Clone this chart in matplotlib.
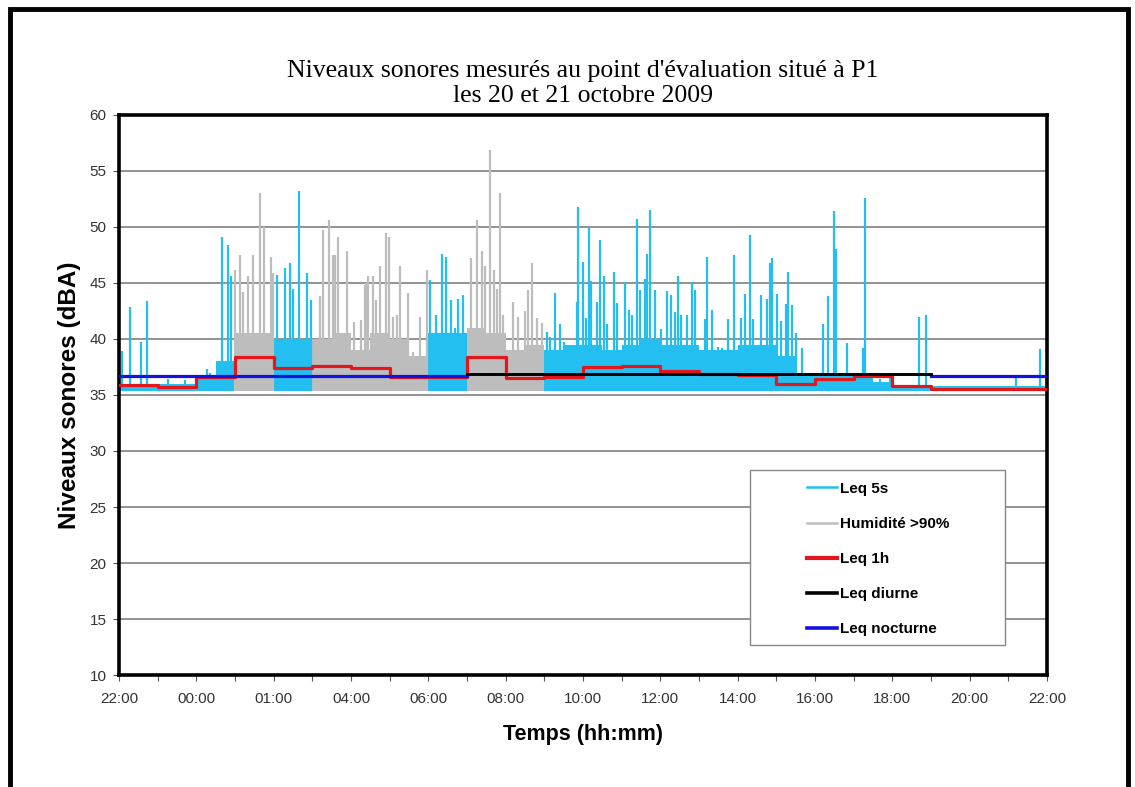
import numpy as np
import matplotlib.pyplot as plt
from matplotlib.lines import Line2D
from matplotlib.patches import Rectangle

# time axis: hours counted from 22:00 on 20 october
tick_hours = np.arange(0, 25, 2)
tick_labels = ['22:00', '00:00', '01:00', '04:00', '06:00', '08:00', '10:00',
               '12:00', '14:00', '16:00', '18:00', '20:00', '22:00']

# Leq 1h, one value per hour starting at 22:00
leq_1h = [35.9, 35.7, 36.6, 38.4, 37.4, 37.6, 37.4, 36.6, 36.6, 38.4, 36.5, 36.6,
          37.5, 37.6, 37.1, 36.9, 36.8, 36.0, 36.4, 36.7, 35.8, 35.5, 35.5, 35.5]

# day (07h-19h) and night Leq
leq_diurne = 36.9
leq_nocturne = 36.7
diurne_start, diurne_end = 9, 21

# periods with humidity > 90 %
humid_periods = [(3, 4), (5, 8), (9, 11)]

# Leq 5s : lower floor, dense body per half hour, and the peaks
floor_level = 35.4
body_level = [36.0, 36.0, 36.0, 36.0, 36.6, 38.0, 40.5, 40.5, 40.0, 40.0,
              40.0, 40.5, 39.0, 40.5, 40.0, 38.5, 40.5, 40.5, 41.0, 40.5,
              39.0, 39.5, 39.0, 39.5, 39.5, 39.0, 39.5, 40.0, 39.5, 39.5,
              39.0, 39.0, 39.5, 39.5, 38.5, 36.8, 36.8, 37.0, 36.5, 36.2,
              35.9, 35.9, 35.8, 35.8, 35.8, 35.8, 35.8, 35.8]
peak_hours = [0.09, 0.28, 0.57, 0.73, 1.27, 1.7, 2.1, 2.27, 2.35, 2.67, 2.81, 2.91, 3.0,
              3.13, 3.21, 3.34, 3.47, 3.65, 3.75, 3.92, 3.99,
              4.08, 4.29, 4.42, 4.51, 4.65, 4.77, 4.87, 4.96,
              5.2, 5.28, 5.43, 5.54, 5.59, 5.67, 5.89, 6.08, 6.25, 6.36, 6.39, 6.45,
              6.56, 6.66, 6.75,
              6.9, 6.99, 7.09, 7.18, 7.28, 7.48, 7.61, 7.78, 7.97,
              8.04, 8.19, 8.36, 8.45, 8.6, 8.69, 8.77, 8.9,
              9.1, 9.27, 9.38, 9.48, 9.59, 9.7, 9.77, 9.85, 9.94, 10.2, 10.31, 10.5,
              10.59, 10.69, 10.8, 10.95,
              11.08, 11.16, 11.27, 11.4, 11.51, 11.62, 11.84, 11.87, 11.99, 12.08,
              12.15, 12.22, 12.37, 12.44, 12.55, 12.61, 12.8, 12.89, 13.09, 13.19,
              13.27, 13.39, 13.47, 13.6, 13.66, 13.73, 13.86, 14.03, 14.18, 14.29,
              14.38, 14.46, 14.53, 14.68, 14.81, 14.89, 15.15, 15.21, 15.34, 15.5,
              15.6, 15.74, 15.9, 16.1, 16.2, 16.32, 16.4, 16.6, 16.75, 16.83, 16.9,
              17.02, 17.11, 17.25, 17.31, 17.41, 17.5, 17.67, 18.2, 18.33, 18.49,
              18.54, 18.84, 19.24, 19.29, 19.68, 19.94, 20.7, 20.86, 23.21, 23.82]
peak_levels = [38.9, 42.9, 39.7, 43.4, 36.4, 36.3, 36.2, 37.3, 37.0, 49.1, 48.4, 45.6, 46.2,
               47.5, 44.2, 45.6, 47.5, 53.0, 50.0, 47.3, 45.9,
               45.7, 46.3, 46.8, 44.5, 53.2, 38.6, 45.9, 43.5,
               43.8, 49.7, 50.6, 47.5, 47.5, 49.1, 47.9, 41.5, 41.7, 44.8, 45.0, 45.6,
               45.6, 43.5, 46.5,
               49.5, 49.1, 42.0, 42.1, 46.5, 44.1, 38.8, 42.0, 46.2,
               45.3, 42.1, 47.6, 47.3, 43.5, 41.0, 43.6, 43.9,
               47.2, 50.6, 47.9, 46.5, 56.9, 46.2, 44.5, 53.0, 42.1, 43.3, 42.0, 42.5,
               44.4, 46.8, 41.9, 41.4,
               40.6, 40.2, 44.1, 41.3, 39.7, 39.5, 43.3, 51.8, 46.9, 41.9,
               50.0, 45.2, 43.3, 48.8, 45.6, 41.3, 46.0, 43.2, 45.1, 42.6,
               42.1, 50.7, 44.4, 45.4, 47.6, 51.5, 44.4, 40.9, 44.3, 43.9,
               42.4, 45.6, 42.1, 42.1, 45.1, 44.4, 41.8, 47.3, 42.6, 39.3,
               39.2, 41.8, 47.5, 41.9, 44.0, 49.3, 41.8, 43.9, 43.6, 46.8, 47.2,
               44.0, 41.6, 43.1, 46.0, 43.0, 40.5, 39.2, 41.3, 43.8, 51.4,
               48.0, 39.6, 39.2, 52.6, 36.4, 36.8, 42.0, 42.1, 36.5, 39.1]

cyan = '#22bff0'
grey = '#bdbdbd'
red = '#e3161c'
blue = '#1212e0'


def is_humid(h):
    for a, b in humid_periods:
        if a <= h < b:
            return True
    return False


def main():
    fig = plt.figure(figsize=(11.35, 7.87), dpi=100)
    ax = fig.add_axes([0.1048, 0.1423, 0.8176, 0.7116])

    # frame around the whole picture
    fig.patches.append(Rectangle((0.009, -0.05), 0.985, 1.039, transform=fig.transFigure,
                                 fill=False, edgecolor='black', linewidth=3.5))

    # Leq 5s body, coloured grey when humidity > 90%
    starts = np.arange(0, 24, 0.5)
    body_cols = [grey if is_humid(s + 0.25) else cyan for s in starts]
    ax.bar(starts, np.array(body_level) - floor_level, bottom=floor_level, width=0.5,
           align='edge', color=body_cols, linewidth=0, zorder=2)

    # Leq 5s peaks
    peak_cols = [grey if is_humid(h) else cyan for h in peak_hours]
    ax.vlines(peak_hours, floor_level, peak_levels, colors=peak_cols, linewidth=1.6, zorder=2)

    # Leq 1h
    hrs = np.arange(0, 25)
    ax.step(hrs, leq_1h + [leq_1h[-1]], where='post', color=red, linewidth=2.3, zorder=3)

    # day and night levels
    ax.plot([0, diurne_start], [leq_nocturne] * 2, color=blue, linewidth=2.3, zorder=4)
    ax.plot([diurne_end, 24], [leq_nocturne] * 2, color=blue, linewidth=2.3, zorder=4)
    ax.plot([diurne_start, diurne_end], [leq_diurne] * 2, color='black', linewidth=2.1, zorder=4)

    ax.set_xlim(0, 24)
    ax.set_ylim(10, 60)
    ax.set_xticks(tick_hours)
    ax.set_xticklabels(tick_labels)
    ax.set_xticks(np.arange(0, 25, 1), minor=True)
    ax.set_yticks(np.arange(10, 61, 5))
    ax.tick_params(axis='both', which='both', direction='out', length=4, width=0.8,
                   color='#555555', labelsize=11, labelcolor='#333333')
    ax.tick_params(axis='x', pad=8)
    ax.tick_params(axis='y', pad=5)
    for lab in ax.get_xticklabels() + ax.get_yticklabels():
        lab.set_fontfamily('Liberation Sans')

    ax.yaxis.grid(True, color='#8a8a8a', linewidth=1.3)
    ax.set_axisbelow(True)
    for sp in ax.spines.values():
        sp.set_linewidth(2.6)
        sp.set_color('black')

    ax.set_title("Niveaux sonores mesurés au point d'évaluation situé à P1\nles 20 et 21 octobre 2009",
                 fontfamily='Liberation Serif', fontsize=18.5, pad=9, linespacing=1.2)
    ax.set_xlabel('Temps (hh:mm)', fontfamily='Liberation Sans', fontweight='bold',
                  fontsize=15.5, labelpad=13)
    ax.set_ylabel('Niveaux sonores (dBA)', fontfamily='Liberation Sans', fontweight='bold',
                  fontsize=17.5, labelpad=6)

    # legend with its own box
    ax.add_patch(Rectangle((0.680, 0.0536), 0.275, 0.3125, transform=ax.transAxes,
                           facecolor='white', edgecolor='#888888', linewidth=1, zorder=5))
    handles = [Line2D([], [], color=cyan, lw=1.8),
               Line2D([], [], color=grey, lw=1.8),
               Line2D([], [], color=red, lw=3),
               Line2D([], [], color='black', lw=2.6),
               Line2D([], [], color=blue, lw=2.6)]
    names = ['Leq 5s', 'Humidité >90%', 'Leq 1h', 'Leq diurne', 'Leq nocturne']
    leg = ax.legend(handles, names, loc='upper left', bbox_to_anchor=(0.741, 0.345),
                    frameon=False, borderpad=0, borderaxespad=0, handlelength=1.96,
                    handletextpad=0.2, labelspacing=1.38,
                    prop={'family': 'Liberation Sans', 'weight': 'bold', 'size': 11})
    leg.set_zorder(6)

    fig.savefig('out.png', dpi=100)


if __name__ == "__main__":
    main()
